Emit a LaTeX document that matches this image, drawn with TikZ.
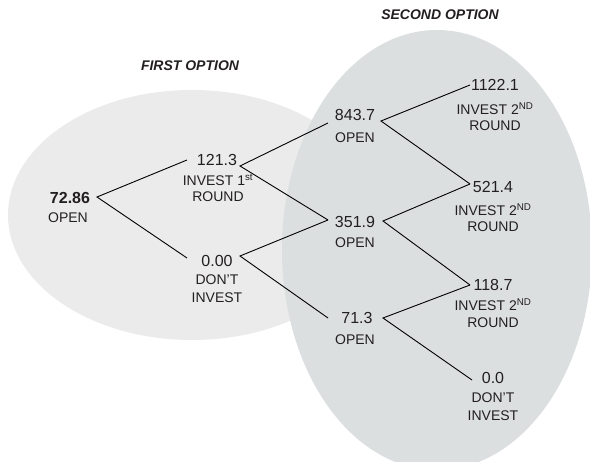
\documentclass[tikz,border=0pt]{standalone}
\usepackage{fontspec}
\setmainfont{Liberation Sans}
\definecolor{leftfill}{HTML}{EBEBEB}
\definecolor{rightfill}{HTML}{DCDFE0}
\definecolor{ink}{HTML}{231F20}
\newcommand{\apos}{\char"27\relax}
\begin{document}
\begin{tikzpicture}[x=1pt,y=-1pt,
  num/.style={inner sep=0pt,text=ink,font=\fontsize{16}{19}\selectfont},
  lbl/.style={inner sep=0pt,text=ink,font=\fontsize{14}{17}\selectfont},
  ttl/.style={inner sep=0pt,text=ink,font=\fontsize{14}{17}\selectfont\bfseries\itshape},
  branch/.style={draw=black,line width=0.9pt}]
\useasboundingbox (0,0) rectangle (590,462);
\begin{scope}
\clip (0,0) rectangle (590,462);
\fill[leftfill] (192,215) ellipse [x radius=184, y radius=125];
\fill[rightfill] (437,250) ellipse [x radius=155, y radius=220];
\end{scope}

% titles
\node[ttl] (t1) at (190,66) {FIRST OPTION};
\node[ttl] (t2) at (440,15) {SECOND OPTION};

% level 0
\node[num,font=\fontsize{16}{19}\selectfont\bfseries] (A) at (70,198) {72.86};
\node[lbl] (Al) at (68,218) {OPEN};
% level 1
\node[num] (B) at (217,160) {121.3};
\node[lbl] (Bl1) at (218,180) {INVEST 1\textsuperscript{st}};
\node[lbl] (Bl2) at (218,197) {ROUND};
\node[num] (C) at (217,261) {0.00};
\node[lbl] (Cl1) at (217,280) {DON\apos T};
\node[lbl] (Cl2) at (217,298) {INVEST};
% level 2
\node[num] (D) at (355,115) {843.7};
\node[lbl] (Dl) at (355,138) {OPEN};
\node[num] (E) at (355,222) {351.9};
\node[lbl] (El) at (355,243) {OPEN};
\node[num] (F) at (357,318) {71.3};
\node[lbl] (Fl) at (355,340) {OPEN};
% level 3
\node[num] (G) at (495,85) {1122.1};
\node[lbl] (Gl1) at (495,109) {INVEST 2\textsuperscript{ND}};
\node[lbl] (Gl2) at (495,126) {ROUND};
\node[num] (H) at (493,187) {521.4};
\node[lbl] (Hl1) at (493,210) {INVEST 2\textsuperscript{ND}};
\node[lbl] (Hl2) at (493,227) {ROUND};
\node[num] (I) at (493,285) {118.7};
\node[lbl] (Il1) at (493,305) {INVEST 2\textsuperscript{ND}};
\node[lbl] (Il2) at (493,323) {ROUND};
\node[num] (J) at (493,378) {0.0};
\node[lbl] (Jl1) at (493,398) {DON\apos T};
\node[lbl] (Jl2) at (493,416) {INVEST};

% vertices
\coordinate (A-r) at (97,197);
\coordinate (B-l) at (187,160);
\coordinate (B-r) at (240,166);
\coordinate (C-l) at (187,258);
\coordinate (C-r) at (240,256);
\coordinate (D-l) at (328,123);
\coordinate (D-r) at (381,121);
\coordinate (E-l) at (328,220);
\coordinate (E-r) at (383,221);
\coordinate (F-l) at (328,318);
\coordinate (F-r) at (383,318);
\coordinate (G-l) at (470,85);
\coordinate (H-l) at (470,184);
\coordinate (I-l) at (470,285);
\coordinate (J-l) at (472,380);

\draw[branch] (B-l) -- (A-r) -- (C-l);
\draw[branch] (D-l) -- (B-r) -- (E-l);
\draw[branch] (E-l) -- (C-r) -- (F-l);
\draw[branch] (G-l) -- (D-r) -- (H-l);
\draw[branch] (H-l) -- (E-r) -- (I-l);
\draw[branch] (I-l) -- (F-r) -- (J-l);
\end{tikzpicture}
\end{document}
